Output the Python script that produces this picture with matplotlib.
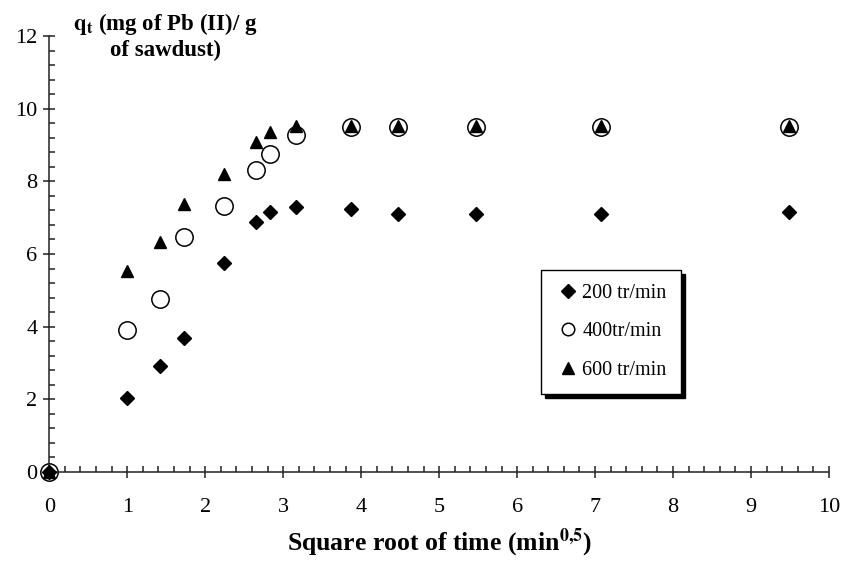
import matplotlib
matplotlib.use("Agg")
import matplotlib.pyplot as plt
import numpy as np

plt.rcParams["font.family"] = ["Liberation Serif", "DejaVu Serif"]
plt.rcParams["mathtext.fontset"] = "stix"

# square root of time (min^0.5)
x = [0, 1, 1.414, 1.732, 2.236, 2.646, 2.828, 3.162, 3.873, 4.472, 5.477, 7.071, 9.487]

# q_t (mg Pb(II) / g sawdust)
q_200 = [0, 2.05, 2.93, 3.69, 5.74, 6.89, 7.16, 7.30, 7.23, 7.11, 7.10, 7.11, 7.15]
q_400 = [0, 3.90, 4.76, 6.47, 7.32, 8.32, 8.76, 9.28, 9.49, 9.50, 9.50, 9.50, 9.49]
q_600 = [0, 5.54, 6.34, 7.37, 8.21, 9.08, 9.35, 9.51, 9.51, 9.52, 9.51, 9.52, 9.52]

labels = ["200 tr/min", "400tr/min", "600 tr/min"]

fig = plt.figure(figsize=(8.41, 5.65), dpi=100)
ax = fig.add_axes([0.0586, 0.1646, 0.9271, 0.7717])

ax.plot(x, q_200, "D", color="black", ms=7.5, ls="none", label=labels[0], clip_on=False, zorder=3)
ax.plot(x, q_400, "o", mfc="white", mec="black", mew=1.1, ms=12.5, ls="none",
        label=labels[1], clip_on=False, zorder=2)
ax.plot(x, q_600, "^", color="black", ms=8.5, ls="none", label=labels[2], clip_on=False, zorder=4)

ax.set_xlim(0, 10)
ax.set_ylim(0, 12)
ax.set_xticks(np.arange(0, 11, 1))
ax.set_yticks(np.arange(0, 13, 2))
ax.set_xticks(np.arange(0, 10.01, 0.2), minor=True)
ax.set_yticks(np.arange(0, 12.01, 0.4), minor=True)

for s in ["top", "right"]:
    ax.spines[s].set_visible(False)
for s in ["left", "bottom"]:
    ax.spines[s].set_linewidth(1.1)
    ax.spines[s].set_color("#222222")

ax.tick_params(which="major", direction="inout", length=9, width=1.1, labelsize=16, colors="#222222",
               labelcolor="black")
ax.tick_params(axis="x", which="major", pad=14)
ax.tick_params(axis="y", which="major", pad=4)
ax.tick_params(which="minor", direction="in", length=4, width=1.1, colors="#222222")

fig.text(165 / 841, 1 - 36 / 565, "$\\mathbf{q}_\\mathbf{t}$ (mg of Pb (II)/ g\nof sawdust)",
         ha="center", va="center", fontsize=16.5, fontweight="bold", linespacing=1.2)
fig.text(440 / 841, 1 - 543 / 565, "Square root of time (min$^{\\mathbf{0{,}5}}$)",
         ha="center", va="center", fontsize=18.5, fontweight="bold")

leg = ax.legend(loc="upper left", bbox_to_anchor=(541 / 841, 1 - 270 / 565),
                bbox_transform=fig.transFigure, fontsize=14.5,
                frameon=True, fancybox=False, edgecolor="black",
                shadow={"color": "black", "alpha": 1, "ox": 3, "oy": -3},
                handlelength=1.3, handletextpad=0.05, labelspacing=0.95,
                borderpad=0.7, borderaxespad=0)
leg.get_frame().set_linewidth(1.0)
for h, ms in zip(leg.legend_handles, [7.5, 9, 8]):
    h.set_markersize(ms)

fig.savefig("out.png", dpi=100)
